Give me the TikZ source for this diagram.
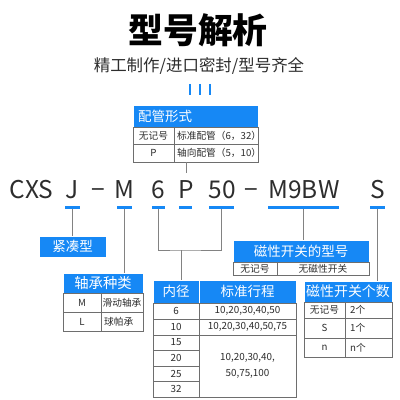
\documentclass[tikz,border=0pt]{standalone}
\usepackage{fontspec}
\setmainfont{Noto Sans CJK SC}
\usepackage{tikz}
\usetikzlibrary{positioning}
\definecolor{hdrblue}{RGB}{22,136,245}
\definecolor{cellgray}{RGB}{110,110,110}
\definecolor{conngray}{RGB}{130,130,130}
\definecolor{txtdark}{RGB}{45,45,45}
\tikzset{
    box/.style 2 args={rectangle, anchor=north west, inner sep=0pt, outer sep=0pt,
                       minimum width=#1*0.025cm, minimum height=#2*0.025cm},
    hdr/.style 2 args={box={#1}{#2}, fill=hdrblue, draw=white, line width=0.4pt,
                       text=white, font=\fontsize{9.6pt}{11pt}\selectfont},
    hdrtxt/.style={inner sep=0pt, text=white, font=\fontsize{9.6pt}{11pt}\selectfont},
    cell/.style 2 args={box={#1}{#2}, draw=cellgray, line width=0.5pt,
                        text=txtdark, font=\fontsize{6.9pt}{8pt}\selectfont},
    numcell/.style 2 args={cell={#1}{#2}, align=center, font=\fontsize{7pt}{11.3pt}\selectfont},
    celltxt/.style={inner sep=0pt, text=txtdark, font=\fontsize{6.9pt}{8pt}\selectfont},
    code/.style={anchor=base, inner sep=0pt, text=txtdark,
                 font=\fontsize{17.4pt}{20pt}\selectfont},
    uline/.style={box={#1}{3}, fill=hdrblue},
    conn/.style={draw=conngray, line width=0.6pt},
}

\begin{document}
\begin{tikzpicture}[x=0.025cm, y=-0.025cm]
    \fill[white] (0,0) rectangle (400,400);
    \useasboundingbox (0,0) rectangle (400,400);

    \node[font=\fontsize{24.8pt}{28pt}\selectfont\bfseries] (title) at (198,30) {型号解析};
    \node[text=txtdark, font=\fontsize{11.7pt}{14pt}\selectfont] (sub) at (199,66)
        {精工制作/进口密封/型号齐全};
    \foreach \x in {190,200,210}
        \draw[hdrblue, line width=2pt] (\x,84) -- (\x,95);

    \node[code] (cCXS) at (31.5,198) {CXS};
    \node[code] (cJ) at (72,198) {J};
    \node[code] (cDa) at (98,198) {−};
    \node[code] (cM) at (124,198) {M};
    \node[code] (c6) at (158,198) {6};
    \node[code] (cP) at (186,198) {P};
    \node[code] (c50) at (222,198) {50};
    \node[code] (cDb) at (251,198) {−};
    \node[code] (cM9) at (304,198) {M9BW};
    \node[code] (cS) at (378,198) {S};

    \node[uline=15] (uJ) at (65,206) {};
    \node[uline=15] (uM) at (117,206) {};
    \node[uline=13] (u6) at (152,206) {};
    \node[uline=13] (uP) at (179,206) {};
    \node[uline=25] (u50) at (209,206) {};
    \node[uline=71] (uM9) at (268,206) {};
    \node[uline=15] (uS) at (370,206) {};

    % piping
    \node[hdr={125}{22}] (pipeH) at (133,105) {};
    \node[hdrtxt, right=3.5pt of pipeH.west] {配管形式};
    \node[cell={41}{17}] (pipeA1) at (133,127) {无记号};
    \node[cell={84}{17}] (pipeA2) at (174,127) {};
    \node[celltxt, right=2pt of pipeA2.west] {标准配管（6，32）};
    \node[cell={41}{18}] (pipeB1) at (133,144) {P};
    \node[cell={84}{18}] (pipeB2) at (174,144) {};
    \node[celltxt, right=2pt of pipeB2.west] {轴向配管（5，10）};

    \node[hdr={67}{21}] (compact) at (39,236) {紧凑型};

    % bearing
    \node[hdr={80}{20}, font=\fontsize{10.2pt}{12pt}\selectfont] (bearH) at (63,273) {轴承种类};
    \node[cell={38}{19}] (bearA1) at (63,293) {M};
    \node[cell={42}{19}] (bearA2) at (101,293) {滑动轴承};
    \node[cell={38}{19}] (bearB1) at (63,312) {L};
    \node[cell={42}{19}] (bearB2) at (101,312) {};
    \node[celltxt, right=2pt of bearB2.west] {球帕承};

    % bore / stroke
    \node[hdr={46}{23}] (boreH) at (153,280) {内径};
    \node[hdr={97}{23}] (strokeH) at (199,280) {标准行程};
    \node[numcell={46}{16}] (bore6) at (153,303) {6};
    \node[numcell={97}{16}] (stroke6) at (199,303) {10,20,30,40,50};
    \node[numcell={46}{16}] (bore10) at (153,319) {10};
    \node[numcell={97}{16}] (stroke10) at (199,319) {10,20,30,40,50,75};
    \node[numcell={46}{15}] (bore15) at (153,335) {15};
    \node[numcell={46}{16}] (bore20) at (153,350) {20};
    \node[numcell={46}{15}] (bore25) at (153,366) {25};
    \node[numcell={46}{16}] (bore32) at (153,381) {32};
    \node[numcell={97}{62}] (strokeRest) at (199,335) {10,20,30,40,\\50,75,100};

    % auto switch
    \node[hdr={136}{22}] (swH) at (233,240) {磁性开关的型号};
    \node[cell={44}{13}] (swA1) at (233,262) {无记号};
    \node[cell={92}{13}] (swA2) at (277,262) {无磁性开关};

    \node[hdr={88}{21}, font=\fontsize{9.9pt}{12pt}\selectfont] (numH) at (304,281) {磁性开关个数};
    \node[cell={41}{16}] (numA1) at (304,302) {无记号};
    \node[cell={47}{16}] (numA2) at (345,302) {};
    \node[celltxt, right=3.5pt of numA2.west] {2个};
    \node[cell={41}{20}] (numB1) at (304,318) {S};
    \node[cell={47}{20}] (numB2) at (345,318) {};
    \node[celltxt, right=3.5pt of numB2.west] {1个};
    \node[cell={41}{19}] (numC1) at (304,338) {n};
    \node[cell={47}{19}] (numC2) at (345,338) {};
    \node[celltxt, right=3.5pt of numC2.west] {n个};

    \coordinate (brk) at (181,250);
    \draw[conn, shorten >=5pt] (cP.north |- pipeB2.south) -- (cP.north);
    \draw[conn] (uJ.south) -- (compact.north);
    \draw[conn] (uM.south) -- (uM.south |- bearH.north);
    \draw[conn] (u6.south) |- (brk) -| (u50.south);
    \draw[conn] (brk) -- (brk |- boreH.north);
    \draw[conn] (uM9.south) -- (uM9.south |- swH.north);
    \draw[conn] (uS.south) -- (uS.south |- numH.north);
\end{tikzpicture}
\end{document}
